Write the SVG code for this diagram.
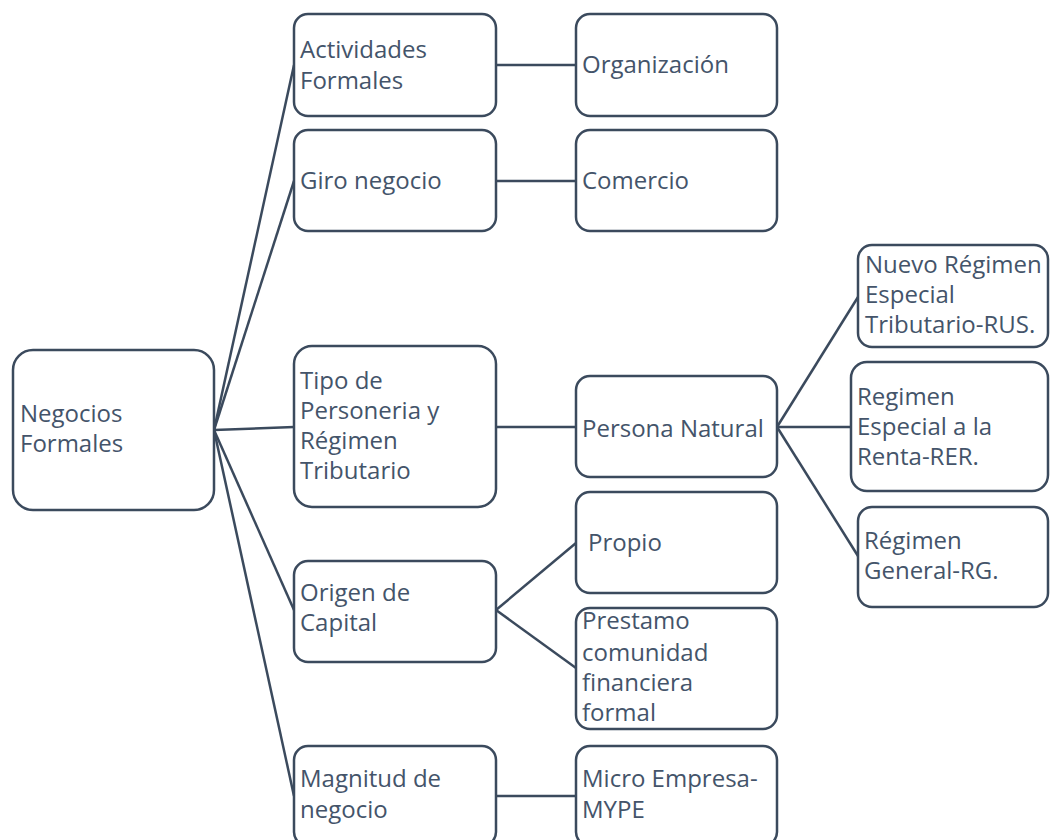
<svg xmlns="http://www.w3.org/2000/svg" width="1050" height="840" viewBox="0 0 1050 840">
<style>
.box{fill:#ffffff;stroke:#3b4a5d;stroke-width:2.5}
.ln{stroke:#3b4a5d;stroke-width:2.5;fill:none}
text{font-family:"Open Sans","Noto Sans",sans-serif;font-size:24px;fill:#44546a}
</style>
<rect width="1050" height="840" fill="#ffffff"/>
<g id="connectors">
<line class="ln" x1="214" y1="430" x2="294" y2="65"/>
<line class="ln" x1="214" y1="430" x2="294" y2="181"/>
<line class="ln" x1="214" y1="430" x2="294" y2="427"/>
<line class="ln" x1="214" y1="430" x2="294" y2="610"/>
<line class="ln" x1="214" y1="430" x2="294" y2="796"/>
<line class="ln" x1="496" y1="65" x2="576" y2="65"/>
<line class="ln" x1="496" y1="181" x2="576" y2="181"/>
<line class="ln" x1="496" y1="427" x2="576" y2="427"/>
<line class="ln" x1="496" y1="610" x2="576" y2="543"/>
<line class="ln" x1="496" y1="610" x2="576" y2="668"/>
<line class="ln" x1="496" y1="796" x2="576" y2="796"/>
<line class="ln" x1="777" y1="427" x2="858" y2="297"/>
<line class="ln" x1="777" y1="427" x2="851" y2="427"/>
<line class="ln" x1="777" y1="427" x2="858" y2="556"/>
</g>
<g id="root">
<rect class="box" x="13" y="350" width="201" height="160" rx="20"/>
<text x="20" y="422">Negocios</text>
<text x="20" y="452">Formales</text>
</g>
<g id="actividades">
<rect class="box" x="294" y="14" width="202" height="102" rx="14"/>
<text x="300" y="58">Actividades</text>
<text x="300" y="89">Formales</text>
</g>
<g id="giro">
<rect class="box" x="294" y="130" width="202" height="101" rx="14"/>
<text x="300" y="189">Giro negocio</text>
</g>
<g id="tipo">
<rect class="box" x="294" y="346" width="202" height="161" rx="18"/>
<text x="300" y="389">Tipo de</text>
<text x="300" y="419">Personeria y</text>
<text x="300" y="449">Régimen</text>
<text x="300" y="479">Tributario</text>
</g>
<g id="origen">
<rect class="box" x="294" y="561" width="202" height="101" rx="14"/>
<text x="300" y="601">Origen de</text>
<text x="300" y="631">Capital</text>
</g>
<g id="magnitud">
<rect class="box" x="294" y="746" width="202" height="100" rx="14"/>
<text x="300" y="787">Magnitud de</text>
<text x="300" y="818">negocio</text>
</g>
<g id="organizacion">
<rect class="box" x="576" y="14" width="201" height="102" rx="14"/>
<text x="582" y="73">Organización</text>
</g>
<g id="comercio">
<rect class="box" x="576" y="130" width="201" height="101" rx="14"/>
<text x="582" y="189">Comercio</text>
</g>
<g id="persona">
<rect class="box" x="576" y="376" width="201" height="101" rx="14"/>
<text x="582" y="437">Persona Natural</text>
</g>
<g id="propio">
<rect class="box" x="576" y="492" width="201" height="101" rx="14"/>
<text x="588" y="551">Propio</text>
</g>
<g id="prestamo">
<rect class="box" x="576" y="608" width="201" height="121" rx="14"/>
<text x="582" y="629">Prestamo</text>
<text x="582" y="661">comunidad</text>
<text x="582" y="691">financiera</text>
<text x="582" y="721">formal</text>
</g>
<g id="micro">
<rect class="box" x="576" y="746" width="201" height="100" rx="14"/>
<text x="582" y="787">Micro Empresa-</text>
<text x="582" y="818">MYPE</text>
</g>
<g id="rus">
<rect class="box" x="858" y="245" width="190" height="102" rx="14"/>
<text x="865" y="273">Nuevo Régimen</text>
<text x="865" y="303">Especial</text>
<text x="865" y="333">Tributario-RUS.</text>
</g>
<g id="rer">
<rect class="box" x="851" y="362" width="197" height="129" rx="16"/>
<text x="857" y="405">Regimen</text>
<text x="857" y="435">Especial a la</text>
<text x="857" y="465">Renta-RER.</text>
</g>
<g id="rg">
<rect class="box" x="858" y="507" width="190" height="100" rx="14"/>
<text x="864" y="549">Régimen</text>
<text x="864" y="579">General-RG.</text>
</g>
</svg>
